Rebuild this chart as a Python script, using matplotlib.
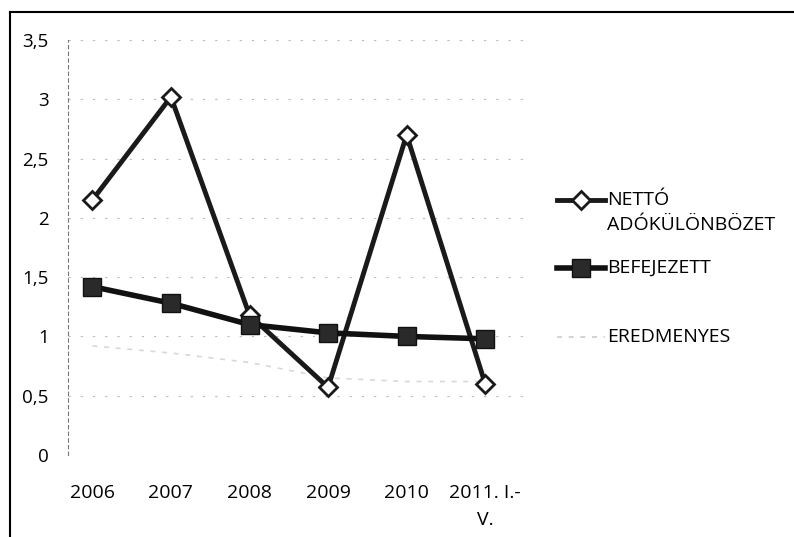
import matplotlib

matplotlib.use("Agg")

import matplotlib.pyplot as plt
from matplotlib.lines import Line2D

plt.rcParams["font.family"] = ["Open Sans", "DejaVu Sans"]

CATEGORIES = ["2006", "2007", "2008", "2009", "2010", "2011. I.-\nV."]
NETTO = [2.15, 3.02, 1.18, 0.57, 2.70, 0.60]
BEFEJEZETT = [1.42, 1.28, 1.10, 1.03, 1.00, 0.98]
EREDMENYES = [0.92, 0.86, 0.78, 0.65, 0.62, 0.62]
Y_TICKS = [0, 0.5, 1, 1.5, 2, 2.5, 3, 3.5]
LABELS = ["NETTÓ\nADÓKÜLÖNBÖZET", "BEFEJEZETT", "EREDMENYES"]

W, H = 794, 537
fig = plt.figure(figsize=(W / 100, H / 100), dpi=100)
ax = fig.add_axes([68 / W, 82 / H, (530 - 68) / W, (455 - 40) / H])

x = list(range(len(CATEGORIES)))
ax.plot(x, EREDMENYES, color="#d8d8d8", lw=1.2, ls=(0, (3, 4)), zorder=2)
ax.plot(x, NETTO, color="#1a1a1a", lw=3.5, marker="D", ms=9,
        mfc="white", mec="#1a1a1a", mew=2, zorder=3)
ax.plot(x, BEFEJEZETT, color="#111111", lw=4, marker="s", ms=13,
        mfc="#2a2a2a", mec="#111111", zorder=4)

ax.set_xlim(-0.31, 5.57)
ax.set_ylim(0, 3.5)
ax.set_yticks(Y_TICKS)
ax.set_yticklabels([f"{v:g}".replace(".", ",") for v in Y_TICKS], fontsize=13.5)
ax.set_xticks(x)
ax.set_xticklabels(CATEGORIES, fontsize=14, linespacing=1.6, va="top")
ax.tick_params(axis="y", length=0, pad=14)
ax.tick_params(axis="x", length=0, pad=21)
ax.yaxis.grid(True, color="#bbbbbb", lw=0.8, ls=(0, (2, 9)))
ax.set_axisbelow(True)
for side in ("top", "right", "bottom"):
    ax.spines[side].set_visible(False)
ax.spines["left"].set_color("#777777")
ax.spines["left"].set_linestyle((0, (3, 3)))
ax.spines["left"].set_linewidth(0.8)

# legend drawn by hand so the two-line label keeps its marker on the first line
leg_rows = [200, 268, 337]
line_styles = [
    dict(color="#1a1a1a", lw=3.5),
    dict(color="#111111", lw=4),
    dict(color="#cccccc", lw=1.2, ls=(0, (3, 4))),
]
marker_styles = [
    dict(marker="D", ms=9, mfc="white", mec="#1a1a1a", mew=2),
    dict(marker="s", ms=13, mfc="#2a2a2a", mec="#111111"),
    None,
]
for row, label, lstyle, mstyle in zip(leg_rows, LABELS, line_styles, marker_styles):
    yf = 1 - row / H
    fig.add_artist(Line2D([557 / W, 605 / W], [yf, yf], **lstyle))
    if mstyle:
        fig.add_artist(Line2D([581 / W], [yf], ls="none", **mstyle))
    parts = label.split("\n")
    fig.text(607 / W, yf, parts[0], fontsize=14, va="center", ha="left")
    if len(parts) > 1:
        fig.text(607 / W, 1 - (row + 25) / H, parts[1],
                 fontsize=14, va="center", ha="left")

# scanned frame, top and left edges
fig.add_artist(Line2D([10 / W, 10 / W], [0, 1 - 12 / H], color="black", lw=1.5))
fig.add_artist(Line2D([10 / W, 1], [1 - 12 / H, 1 - 12 / H], color="black", lw=1.5))

fig.savefig("out.png", dpi=100)
